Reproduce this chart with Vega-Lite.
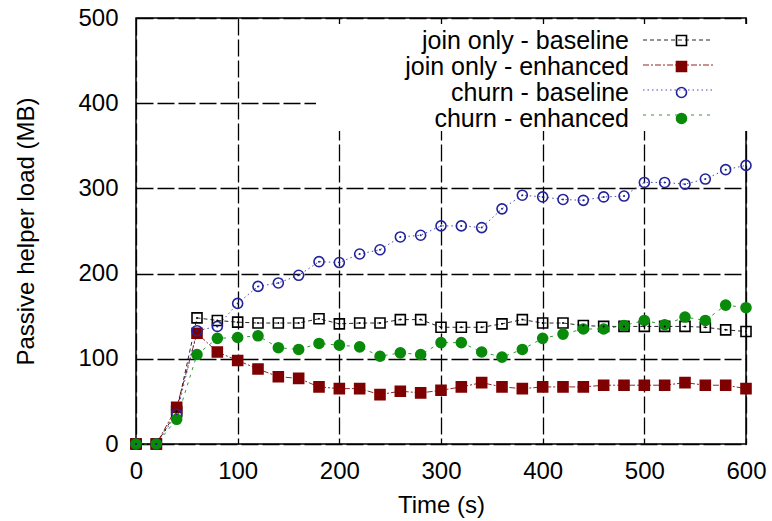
{
  "$schema": "https://vega.github.io/schema/vega-lite/v6.json",
  "width": 610,
  "height": 426,
  "autosize": {"type": "none"},
  "padding": {"left": 136, "top": 18, "right": 26, "bottom": 77},
  "background": "white",
  "config": {
    "view": {"stroke": "black", "strokeWidth": 1.5},
    "font": "Liberation Sans",
    "axis": {
      "grid": true,
      "gridColor": "black",
      "gridDash": [17, 4],
      "gridWidth": 1.3,
      "gridOpacity": 1,
      "domain": false,
      "ticks": false,
      "labelFlush": false,
      "labelFont": "Liberation Sans",
      "labelFontSize": 24,
      "labelColor": "black",
      "titleFont": "Liberation Sans",
      "titleFontSize": 24,
      "titleFontWeight": "normal",
      "titleColor": "black"
    },
    "legend": {
      "labelFont": "Liberation Sans",
      "labelFontSize": 25,
      "labelColor": "black",
      "labelLimit": 500
    }
  },
  "data": {
    "values": [
      {"t": 0, "s": "join only - baseline", "v": 0},
      {"t": 20, "s": "join only - baseline", "v": 0},
      {"t": 40, "s": "join only - baseline", "v": 38},
      {"t": 60, "s": "join only - baseline", "v": 148},
      {"t": 80, "s": "join only - baseline", "v": 145},
      {"t": 100, "s": "join only - baseline", "v": 143},
      {"t": 120, "s": "join only - baseline", "v": 142},
      {"t": 140, "s": "join only - baseline", "v": 142},
      {"t": 160, "s": "join only - baseline", "v": 142},
      {"t": 180, "s": "join only - baseline", "v": 147},
      {"t": 200, "s": "join only - baseline", "v": 141},
      {"t": 220, "s": "join only - baseline", "v": 142},
      {"t": 240, "s": "join only - baseline", "v": 142},
      {"t": 260, "s": "join only - baseline", "v": 146},
      {"t": 280, "s": "join only - baseline", "v": 146},
      {"t": 300, "s": "join only - baseline", "v": 137},
      {"t": 320, "s": "join only - baseline", "v": 137},
      {"t": 340, "s": "join only - baseline", "v": 137},
      {"t": 360, "s": "join only - baseline", "v": 141},
      {"t": 380, "s": "join only - baseline", "v": 146},
      {"t": 400, "s": "join only - baseline", "v": 142},
      {"t": 420, "s": "join only - baseline", "v": 142},
      {"t": 440, "s": "join only - baseline", "v": 139},
      {"t": 460, "s": "join only - baseline", "v": 138},
      {"t": 480, "s": "join only - baseline", "v": 138},
      {"t": 500, "s": "join only - baseline", "v": 138},
      {"t": 520, "s": "join only - baseline", "v": 138},
      {"t": 540, "s": "join only - baseline", "v": 138},
      {"t": 560, "s": "join only - baseline", "v": 137},
      {"t": 580, "s": "join only - baseline", "v": 134},
      {"t": 600, "s": "join only - baseline", "v": 132},
      {"t": 0, "s": "join only - enhanced", "v": 0},
      {"t": 20, "s": "join only - enhanced", "v": 0},
      {"t": 40, "s": "join only - enhanced", "v": 43},
      {"t": 60, "s": "join only - enhanced", "v": 130},
      {"t": 80, "s": "join only - enhanced", "v": 108},
      {"t": 100, "s": "join only - enhanced", "v": 98},
      {"t": 120, "s": "join only - enhanced", "v": 88},
      {"t": 140, "s": "join only - enhanced", "v": 79},
      {"t": 160, "s": "join only - enhanced", "v": 77},
      {"t": 180, "s": "join only - enhanced", "v": 67},
      {"t": 200, "s": "join only - enhanced", "v": 65},
      {"t": 220, "s": "join only - enhanced", "v": 65},
      {"t": 240, "s": "join only - enhanced", "v": 58},
      {"t": 260, "s": "join only - enhanced", "v": 62},
      {"t": 280, "s": "join only - enhanced", "v": 60},
      {"t": 300, "s": "join only - enhanced", "v": 63},
      {"t": 320, "s": "join only - enhanced", "v": 67},
      {"t": 340, "s": "join only - enhanced", "v": 72},
      {"t": 360, "s": "join only - enhanced", "v": 67},
      {"t": 380, "s": "join only - enhanced", "v": 65},
      {"t": 400, "s": "join only - enhanced", "v": 67},
      {"t": 420, "s": "join only - enhanced", "v": 67},
      {"t": 440, "s": "join only - enhanced", "v": 67},
      {"t": 460, "s": "join only - enhanced", "v": 69},
      {"t": 480, "s": "join only - enhanced", "v": 69},
      {"t": 500, "s": "join only - enhanced", "v": 69},
      {"t": 520, "s": "join only - enhanced", "v": 69},
      {"t": 540, "s": "join only - enhanced", "v": 72},
      {"t": 560, "s": "join only - enhanced", "v": 69},
      {"t": 580, "s": "join only - enhanced", "v": 69},
      {"t": 600, "s": "join only - enhanced", "v": 65},
      {"t": 0, "s": "churn - baseline", "v": 0},
      {"t": 20, "s": "churn - baseline", "v": 0},
      {"t": 40, "s": "churn - baseline", "v": 35},
      {"t": 60, "s": "churn - baseline", "v": 133},
      {"t": 80, "s": "churn - baseline", "v": 138},
      {"t": 100, "s": "churn - baseline", "v": 165},
      {"t": 120, "s": "churn - baseline", "v": 185},
      {"t": 140, "s": "churn - baseline", "v": 189},
      {"t": 160, "s": "churn - baseline", "v": 198},
      {"t": 180, "s": "churn - baseline", "v": 214},
      {"t": 200, "s": "churn - baseline", "v": 213},
      {"t": 220, "s": "churn - baseline", "v": 223},
      {"t": 240, "s": "churn - baseline", "v": 228},
      {"t": 260, "s": "churn - baseline", "v": 243},
      {"t": 280, "s": "churn - baseline", "v": 245},
      {"t": 300, "s": "churn - baseline", "v": 256},
      {"t": 320, "s": "churn - baseline", "v": 256},
      {"t": 340, "s": "churn - baseline", "v": 254},
      {"t": 360, "s": "churn - baseline", "v": 276},
      {"t": 380, "s": "churn - baseline", "v": 292},
      {"t": 400, "s": "churn - baseline", "v": 290},
      {"t": 420, "s": "churn - baseline", "v": 287},
      {"t": 440, "s": "churn - baseline", "v": 286},
      {"t": 460, "s": "churn - baseline", "v": 290},
      {"t": 480, "s": "churn - baseline", "v": 291},
      {"t": 500, "s": "churn - baseline", "v": 307},
      {"t": 520, "s": "churn - baseline", "v": 307},
      {"t": 540, "s": "churn - baseline", "v": 305},
      {"t": 560, "s": "churn - baseline", "v": 311},
      {"t": 580, "s": "churn - baseline", "v": 322},
      {"t": 600, "s": "churn - baseline", "v": 327},
      {"t": 0, "s": "churn - enhanced", "v": 0},
      {"t": 20, "s": "churn - enhanced", "v": 0},
      {"t": 40, "s": "churn - enhanced", "v": 29},
      {"t": 60, "s": "churn - enhanced", "v": 105},
      {"t": 80, "s": "churn - enhanced", "v": 124},
      {"t": 100, "s": "churn - enhanced", "v": 125},
      {"t": 120, "s": "churn - enhanced", "v": 127},
      {"t": 140, "s": "churn - enhanced", "v": 113},
      {"t": 160, "s": "churn - enhanced", "v": 111},
      {"t": 180, "s": "churn - enhanced", "v": 118},
      {"t": 200, "s": "churn - enhanced", "v": 116},
      {"t": 220, "s": "churn - enhanced", "v": 114},
      {"t": 240, "s": "churn - enhanced", "v": 103},
      {"t": 260, "s": "churn - enhanced", "v": 107},
      {"t": 280, "s": "churn - enhanced", "v": 105},
      {"t": 300, "s": "churn - enhanced", "v": 119},
      {"t": 320, "s": "churn - enhanced", "v": 119},
      {"t": 340, "s": "churn - enhanced", "v": 108},
      {"t": 360, "s": "churn - enhanced", "v": 102},
      {"t": 380, "s": "churn - enhanced", "v": 111},
      {"t": 400, "s": "churn - enhanced", "v": 124},
      {"t": 420, "s": "churn - enhanced", "v": 129},
      {"t": 440, "s": "churn - enhanced", "v": 135},
      {"t": 460, "s": "churn - enhanced", "v": 135},
      {"t": 480, "s": "churn - enhanced", "v": 139},
      {"t": 500, "s": "churn - enhanced", "v": 145},
      {"t": 520, "s": "churn - enhanced", "v": 140},
      {"t": 540, "s": "churn - enhanced", "v": 149},
      {"t": 560, "s": "churn - enhanced", "v": 145},
      {"t": 580, "s": "churn - enhanced", "v": 163},
      {"t": 600, "s": "churn - enhanced", "v": 160}
    ]
  },
  "encoding": {
    "x": {
      "field": "t",
      "type": "quantitative",
      "title": "Time (s)",
      "scale": {"domain": [0, 600], "nice": false},
      "axis": {"values": [0, 100, 200, 300, 400, 500, 600], "labelPadding": 15, "titlePadding": 10}
    },
    "y": {
      "field": "v",
      "type": "quantitative",
      "title": "Passive helper load (MB)",
      "scale": {"domain": [0, 500], "nice": false},
      "axis": {"values": [0, 100, 200, 300, 400, 500], "labelPadding": 18, "titlePadding": 39}
    }
  },
  "layer": [
    {
      "transform": [{"filter": "datum.v >= 0"}],
      "mark": {"type": "line", "strokeWidth": 1, "opacity": 0.85},
      "encoding": {
        "color": {
          "field": "s",
          "type": "nominal",
          "sort": null,
          "scale": {"range": ["#000000", "#7f0000", "#2a2aa0", "#0a8a0a"]},
          "legend": {
            "orient": "none",
            "legendX": 180,
            "legendY": 6,
            "padding": 4,
            "fillColor": "white",
            "title": "\u00a0",
            "titleOrient": "left",
            "titleFontSize": 1,
            "titlePadding": 346,
            "titleOpacity": 0,
            "symbolType": "M-7,0H7",
            "symbolSize": 100,
            "symbolStrokeWidth": 1,
            "labelAlign": "left",
            "labelOpacity": 0,
            "labelOffset": 24,
            "labelExpr": "'MM'",
            "labelFontSize": 24,
            "rowPadding": 1
          }
        },
        "strokeDash": {
          "field": "s",
          "type": "nominal",
          "sort": null,
          "scale": {"range": [[4, 3], [6, 2, 2, 2], [1.5, 3], [3, 5]]},
          "legend": {
            "orient": "none",
            "legendX": 180,
            "legendY": 6,
            "padding": 4,
            "fillColor": "white",
            "title": "\u00a0",
            "titleOrient": "left",
            "titleFontSize": 1,
            "titlePadding": 346,
            "titleOpacity": 0,
            "symbolType": "M-7,0H7",
            "symbolSize": 100,
            "symbolStrokeWidth": 1,
            "labelAlign": "left",
            "labelOpacity": 0,
            "labelOffset": 24,
            "labelExpr": "'MM'",
            "labelFontSize": 24,
            "rowPadding": 1
          }
        }
      }
    },
    {
      "mark": {"type": "point", "strokeWidth": 1.6, "opacity": 1, "size": 100},
      "encoding": {
        "shape": {
          "field": "s",
          "type": "nominal",
          "scale": {
            "domain": ["join only - baseline", "join only - enhanced", "churn - baseline", "churn - enhanced"],
            "range": ["square", "square", "circle", "circle"]
          },
          "legend": {
            "orient": "none",
            "legendX": 533,
            "legendY": 10,
            "padding": 0,
            "title": null,
            "symbolSize": 100,
            "symbolStrokeWidth": 1.6,
            "labelAlign": "right",
            "labelOffset": -65,
            "rowPadding": 0
          }
        },
        "stroke": {
          "field": "s",
          "type": "nominal",
          "scale": {
            "domain": ["join only - baseline", "join only - enhanced", "churn - baseline", "churn - enhanced"],
            "range": ["#000000", "#7f0000", "#23239b", "#0a8a0a"]
          },
          "legend": {
            "orient": "none",
            "legendX": 533,
            "legendY": 10,
            "padding": 0,
            "title": null,
            "symbolSize": 100,
            "symbolStrokeWidth": 1.6,
            "labelAlign": "right",
            "labelOffset": -65,
            "rowPadding": 0
          }
        },
        "fill": {
          "field": "s",
          "type": "nominal",
          "scale": {
            "domain": ["join only - baseline", "join only - enhanced", "churn - baseline", "churn - enhanced"],
            "range": ["transparent", "#7f0000", "transparent", "#0a8a0a"]
          },
          "legend": {
            "orient": "none",
            "legendX": 533,
            "legendY": 10,
            "padding": 0,
            "title": null,
            "symbolSize": 100,
            "symbolStrokeWidth": 1.6,
            "labelAlign": "right",
            "labelOffset": -65,
            "rowPadding": 0
          }
        }
      }
    },
    {
      "transform": [{"filter": "datum.s == 'join only - baseline' || datum.s == 'churn - baseline'"}],
      "mark": {"type": "point", "filled": true, "size": 4, "opacity": 1},
      "encoding": {
        "color": {
          "condition": {"test": "datum.s == 'churn - baseline'", "value": "#23239b"},
          "value": "#000000"
        }
      }
    }
  ]
}
